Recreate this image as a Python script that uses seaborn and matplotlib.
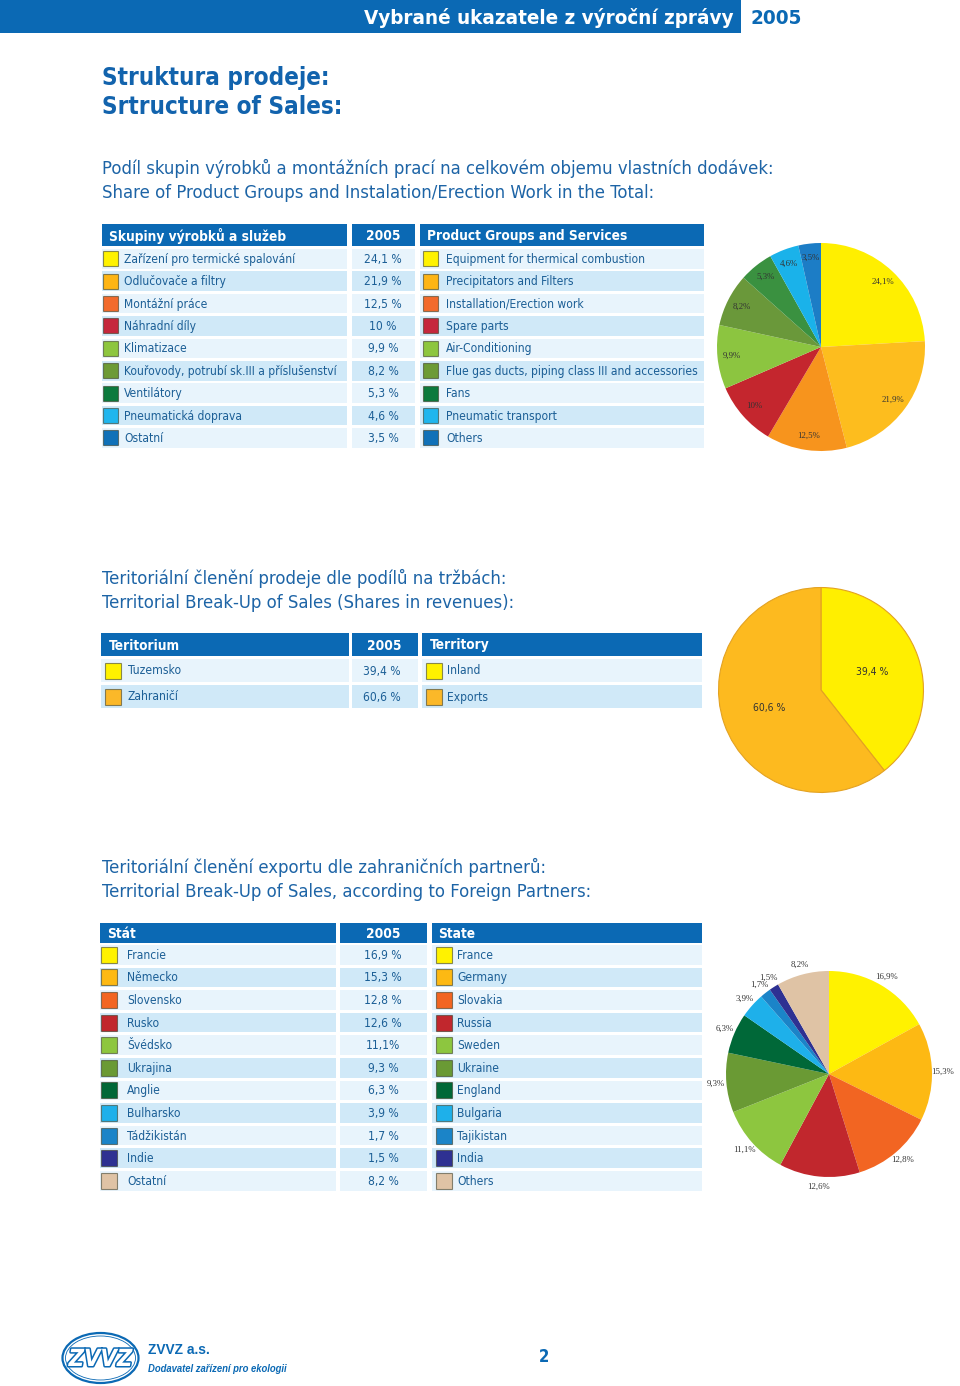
import matplotlib
matplotlib.use("Agg")
import matplotlib.pyplot as plt
import seaborn as sns
from matplotlib.patches import Rectangle, Ellipse
import matplotlib.patheffects as pe

sns.set_theme(style="white")
plt.rcParams["font.family"] = ["DejaVu Sans"]
plt.rcParams["font.stretch"] = "condensed"

# ---------------- data ----------------
groups_cz = ["Zařízení pro termické spalování", "Odlučovače a filtry", "Montážní práce",
             "Náhradní díly", "Klimatizace", "Kouřovody, potrubí sk.III a příslušenství",
             "Ventilátory", "Pneumatická doprava", "Ostatní"]
groups_en = ["Equipment for thermical combustion", "Precipitators and Filters",
             "Installation/Erection work", "Spare parts", "Air-Conditioning",
             "Flue gas ducts, piping class III and accessories", "Fans",
             "Pneumatic transport", "Others"]
groups_values = [24.1, 21.9, 12.5, 10, 9.9, 8.2, 5.3, 4.6, 3.5]
groups_value_labels = ["24,1 %", "21,9 %", "12,5 %", "10 %", "9,9 %", "8,2 %",
                       "5,3 %", "4,6 %", "3,5 %"]

territory_cz = ["Tuzemsko", "Zahraničí"]
territory_en = ["Inland", "Exports"]
territory_values = [39.4, 60.6]
territory_value_labels = ["39,4 %", "60,6 %"]

states_cz = ["Francie", "Německo", "Slovensko", "Rusko", "Švédsko", "Ukrajina",
             "Anglie", "Bulharsko", "Tádžikistán", "Indie", "Ostatní"]
states_en = ["France", "Germany", "Slovakia", "Russia", "Sweden", "Ukraine",
             "England", "Bulgaria", "Tajikistan", "India", "Others"]
states_values = [16.9, 15.3, 12.8, 12.6, 11.1, 9.3, 6.3, 3.9, 1.7, 1.5, 8.2]
states_value_labels = ["16,9 %", "15,3 %", "12,8 %", "12,6 %", "11,1%", "9,3 %",
                       "6,3 %", "3,9 %", "1,7 %", "1,5 %", "8,2 %"]

# ---------------- styles ----------------
groups_sq_colors = ["#FFF200", "#FDB515", "#F26B2D", "#C5283D", "#8DC63F", "#6D9B36",
                    "#0B7A3D", "#20B6EE", "#1071B8"]
groups_pie_colors = ["#FFEF00", "#FDBD1E", "#F7941D", "#C4262E", "#8CC540", "#6A983A",
                     "#3A9140", "#1AB2EA", "#1C7DC6"]
territory_colors = ["#FFEF00", "#FDBA1F"]
states_colors = ["#FFF200", "#FDB913", "#F26522", "#C1272D", "#8DC63F", "#6A9A34",
                 "#006838", "#1EB0EA", "#1B84C8", "#2E3192", "#DFC3A5"]

BLUE = "#0B69B4"
TITLE = "#1263AD"
SUB = "#1D64A6"
TXT = "#1C5F96"
ROW_L = "#E8F4FC"
ROW_D = "#D0E9F8"
LBL = "#333333"

W, H = 960, 1386
fig = plt.figure(figsize=(W / 100, H / 100), dpi=100)
page = fig.add_axes([0, 0, 1, 1])
page.set_xlim(0, W)
page.set_ylim(H, 0)
page.axis("off")
renderer = fig.canvas.get_renderer()


def fit(text, target, **kw):
    t = page.text(0, 0, text, fontsize=10, **kw)
    w = t.get_window_extent(renderer).width
    t.remove()
    return 10 * target / w


# ---------------- header ----------------
fs_hdr = fit("Vybrané ukazatele z výroční zprávy", 368, fontweight="bold")
page.add_patch(Rectangle((0, 0), 741, 33, color=BLUE, lw=0))
page.text(733, 18, "Vybrané ukazatele z výroční zprávy", color="white",
          fontweight="bold", fontsize=fs_hdr, ha="right", va="center")
page.text(750, 18, "2005", color=BLUE, fontweight="bold", fontsize=fs_hdr,
          ha="left", va="center")

# ---------------- titles ----------------
fs_title = fit("Struktura prodeje:", 226, fontweight="bold")
page.text(102, 78, "Struktura prodeje:", color=TITLE, fontweight="bold",
          fontsize=fs_title, ha="left", va="center")
page.text(102, 107, "Srtructure of Sales:", color=TITLE, fontweight="bold",
          fontsize=fs_title, ha="left", va="center")

fs_sub = fit("Podíl skupin výrobků a montážních prací na celkovém objemu vlastních dodávek:", 675)
subs = [(168, "Podíl skupin výrobků a montážních prací na celkovém objemu vlastních dodávek:"),
        (193, "Share of Product Groups and Instalation/Erection Work in the Total:"),
        (578, "Teritoriální členění prodeje dle podílů na tržbách:"),
        (603, "Territorial Break-Up of Sales (Shares in revenues):"),
        (867, "Teritoriální členění exportu dle zahraničních partnerů:"),
        (892, "Territorial Break-Up of Sales, according to Foreign Partners:")]
for y, s in subs:
    page.text(102, y, s, color=SUB, fontsize=fs_sub, ha="left", va="center")

fs_th = fit("Skupiny výrobků a služeb", 176, fontweight="bold")
fs_td = fit("Kouřovody, potrubí sk.III a příslušenství", 212)


def draw_table(hy, hh, ry, pitch, rh, cols, heads, head_x, cz, vals, en, colors,
               sq, sq_x, txt_x, val_x):
    for (x0, x1) in cols:
        page.add_patch(Rectangle((x0, hy), x1 - x0, hh, color=BLUE, lw=0))
    yc = hy + hh / 2 + 1
    page.text(head_x[0], yc, heads[0], color="white", fontweight="bold",
              fontsize=fs_th, ha="left", va="center")
    page.text(head_x[1], yc, heads[1], color="white", fontweight="bold",
              fontsize=fs_th, ha="center", va="center")
    page.text(head_x[2], yc, heads[2], color="white", fontweight="bold",
              fontsize=fs_th, ha="left", va="center")
    for i in range(len(cz)):
        y0 = ry + pitch * i
        yc = y0 + rh / 2
        bg = ROW_L if i % 2 == 0 else ROW_D
        for (x0, x1) in cols:
            page.add_patch(Rectangle((x0, y0), x1 - x0, rh, color=bg, lw=0))
        for sx in sq_x:
            page.add_patch(Rectangle((sx, yc - sq / 2), sq, sq, facecolor=colors[i],
                                     edgecolor=(0.2, 0.2, 0.1, 0.55), lw=0.8))
        page.text(txt_x[0], yc + 0.5, cz[i], color=TXT, fontsize=fs_td,
                  ha="left", va="center")
        page.text(val_x, yc + 0.5, vals[i], color=TXT, fontsize=fs_td,
                  ha="center", va="center")
        page.text(txt_x[1], yc + 0.5, en[i], color=TXT, fontsize=fs_td,
                  ha="left", va="center")


# table 1
draw_table(224, 22, 249, 22.4, 19.5, [(102, 347), (352, 415), (420, 704)],
           ["Skupiny výrobků a služeb", "2005", "Product Groups and Services"],
           [109, 383, 427], groups_cz, groups_value_labels, groups_en,
           groups_sq_colors, 15, [103, 423], [124, 446], 383)

# table 2
draw_table(633, 23, 659, 26, 23, [(101, 349), (352, 418), (422, 702)],
           ["Teritorium", "2005", "Territory"],
           [109, 384, 430], territory_cz, territory_value_labels, territory_en,
           ["#FFF200", "#FBB829"], 16, [105, 426], [128, 447], 382)

# table 3
draw_table(923, 20, 945, 22.6, 19.5, [(100, 336), (340, 427), (432, 702)],
           ["Stát", "2005", "State"],
           [107, 383, 438], states_cz, states_value_labels, states_en,
           states_colors, 16, [101, 436], [127, 457], 383)


# ---------------- pies ----------------
def pie_axes(cx, cy, r):
    return fig.add_axes([(cx - r) / W, 1 - (cy + r) / H, 2 * r / W, 2 * r / H])


lbl_font = dict(family="Liberation Serif", size=6.3, color=LBL)

ax1 = pie_axes(821, 347, 104)
_, t1 = ax1.pie(groups_values, labels=[s.replace(" ", "") for s in groups_value_labels],
                colors=groups_pie_colors, startangle=90, counterclock=False,
                labeldistance=0.86, textprops=lbl_font,
                wedgeprops=dict(linewidth=0))
for t in t1:
    t.set_ha("center"); t.set_va("center")
ax1.set_xlim(-1, 1); ax1.set_ylim(-1, 1); ax1.axis("off")

ax2 = pie_axes(821, 690, 103.5)
_, t2 = ax2.pie(territory_values, labels=territory_value_labels,
                colors=territory_colors, startangle=90, counterclock=False,
                labeldistance=0.53, textprops=dict(size=7.5, color=LBL),
                wedgeprops=dict(linewidth=0.8, edgecolor="#E3A222"))
for t in t2:
    t.set_ha("center"); t.set_va("center")
ax2.set_xlim(-1.01, 1.01); ax2.set_ylim(-1.01, 1.01); ax2.axis("off")

ax3 = pie_axes(829, 1074, 103)
_, t3 = ax3.pie(states_values, labels=[s.replace(" ", "") for s in states_value_labels],
                colors=states_colors, startangle=90, counterclock=False,
                labeldistance=1.1, textprops=lbl_font,
                wedgeprops=dict(linewidth=0))
for t in t3:
    t.set_ha("center"); t.set_va("center")
ax3.set_xlim(-1, 1); ax3.set_ylim(-1, 1); ax3.axis("off")

# ---------------- footer ----------------
page.add_patch(Ellipse((100.5, 1358), 76, 50, facecolor="white", edgecolor=BLUE, lw=1.6))
page.add_patch(Ellipse((100.5, 1358), 70, 44, facecolor="none", edgecolor=BLUE, lw=0.6))
page.text(100.5, 1359, "ZVVZ", fontsize=17, fontweight="bold", style="italic",
          color="white", ha="center", va="center",
          path_effects=[pe.withStroke(linewidth=2.2, foreground=BLUE)])
fs_z = fit("ZVVZ a.s.", 62, fontweight="bold", family="Liberation Sans")
page.text(148, 1350, "ZVVZ a.s.", fontsize=fs_z, fontweight="bold",
          family="Liberation Sans", color=BLUE, ha="left", va="center")
fs_d = fit("Dodavatel zařízení pro ekologii", 140, fontweight="bold", style="italic",
           family="Liberation Sans")
page.text(148, 1369, "Dodavatel zařízení pro ekologii", fontsize=fs_d, fontweight="bold",
          style="italic", family="Liberation Sans", color=BLUE, ha="left", va="center")
page.text(544, 1357, "2", fontsize=12, fontweight="bold", color=BLUE,
          ha="center", va="center")

fig.savefig("out.png", dpi=100)
